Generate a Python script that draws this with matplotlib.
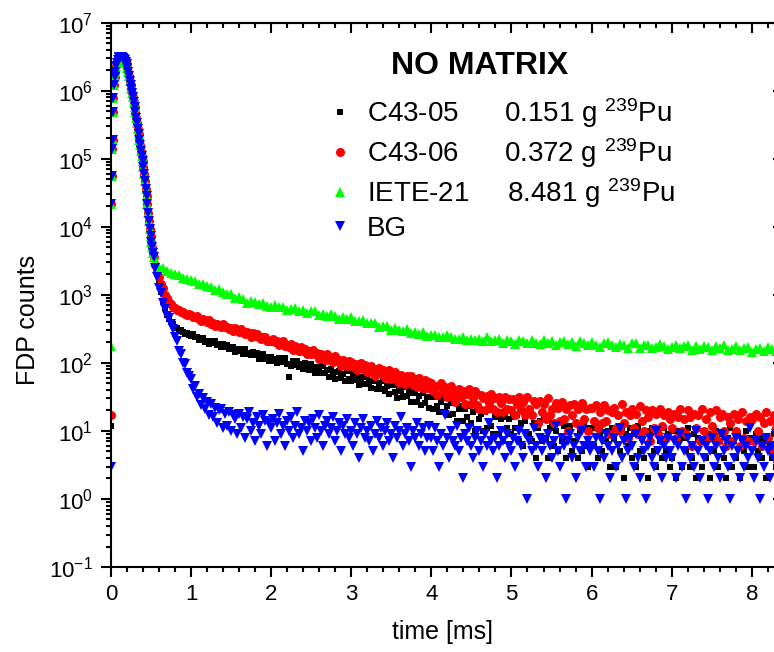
import numpy as np
import matplotlib
matplotlib.use("Agg")
import matplotlib.pyplot as plt
from matplotlib.ticker import LogLocator, MultipleLocator, FuncFormatter, NullFormatter

plt.rcParams['font.family'] = ['Liberation Sans', 'DejaVu Sans']
plt.rcParams['mathtext.fontset'] = 'custom'
plt.rcParams['mathtext.rm'] = 'Liberation Sans'
plt.rcParams['mathtext.it'] = 'Liberation Sans:italic'
plt.rcParams['mathtext.bf'] = 'Liberation Sans:bold'

# ---------------- data ----------------
series_names = ["C43-05", "C43-06", "IETE-21", "BG"]
series_masses = ["0.151 g", "0.372 g", "8.481 g", ""]

# first bin (t = 0) for each series
start_counts = {"C43-05": 12, "C43-06": 17, "IETE-21": 180, "BG": 3}

# shared rise / peak / fast decay (identical for all measurements)
t_peak = np.concatenate([np.arange(0.005, 0.036, 0.005), np.arange(0.045, 0.54, 0.01)])
peak_counts = [2.2e4, 5.5e4, 1.4e5, 1.9e5, 4.9e5, 7.8e5, 1.2e6,
               1.6e6, 1.9e6, 2.3e6, 2.6e6, 2.85e6, 3.0e6, 3.1e6, 3.15e6, 3.15e6, 3.1e6,
               3.05e6, 3.0e6, 2.9e6, 2.8e6, 2.65e6,
               2.45e6, 2.14e6, 1.86e6, 1.62e6, 1.41e6, 1.23e6, 1.07e6, 9.33e5, 8.13e5, 6.92e5,
               5.75e5, 4.79e5, 3.98e5, 3.31e5, 2.75e5, 2.29e5, 1.91e5, 1.58e5, 1.32e5, 1.10e5,
               9.12e4, 7.59e4, 6.03e4, 4.68e4, 3.63e4, 2.82e4, 2.14e4, 1.62e4, 1.23e4, 9330,
               7410, 6030, 5010, 4170, 3550]

# tails (0.55 ms ... 8.4 ms)
t_tail_fine = np.arange(0.55, 8.4001, 0.025)
t_tail_coarse = np.arange(0.55, 8.4001, 0.05)

c43_05_tail = [
    2680, 2030, 1470, 1120, 790, 640, 510, 440, 395, 368, 330, 326, 297, 302, 280, 268, 275, 255,
    245, 263, 238, 244, 214, 231, 232, 206, 213, 192, 211, 194, 207, 181, 189, 169, 187, 170, 184, 160,
    167, 173, 145, 162, 151, 160, 137, 159, 137, 141, 129, 147, 129, 138, 116, 131, 134, 114, 122, 108,
    124, 106, 116, 99, 120, 104, 112, 118, 95, 62, 89, 107, 94, 107, 88, 96, 81, 98, 90, 78,
    97, 79, 70, 88, 83, 70, 91, 70, 79, 63, 81, 69, 58, 74, 77, 59, 68, 55, 75, 58,
    55, 68, 56, 63, 48, 58, 62, 49, 63, 50, 43, 54, 55, 41, 50, 42, 54, 39, 46, 35,
    47, 48, 37, 30, 42, 38, 31, 44, 33, 40, 27, 36, 38, 27, 33, 24, 36, 26, 32, 22,
    31, 21, 32, 23, 19, 27, 30, 19, 23, 17, 26, 18, 26, 14, 21, 23, 14, 21, 16, 23,
    13, 19, 10, 21, 15, 18, 10, 19, 11, 20, 12, 9, 16, 18, 9, 15, 7, 16, 11, 15,
    9, 16, 11, 17, 7, 13, 6, 14, 17, 9, 7, 13, 4, 11, 14, 7, 15, 8, 4, 11,
    13, 6, 10, 5, 14, 7, 12, 4, 11, 12, 5, 7, 13, 4, 10, 5, 12, 6, 3, 11,
    11, 6, 12, 4, 9, 5, 13, 7, 10, 3, 11, 8, 3, 11, 5, 10, 2, 9, 6, 11,
    4, 9, 3, 12, 5, 8, 4, 10, 2, 9, 11, 5, 3, 10, 7, 4, 11, 5, 9, 3,
    4, 10, 2, 7, 10, 3, 8, 5, 11, 3, 4, 9, 2, 8, 7, 3, 10, 4, 9, 2,
    8, 5, 10, 3, 7, 9, 4, 2, 8, 11, 3, 7, 4, 9, 2, 8, 5, 10, 3, 8,
    8, 3, 9, 5, 8, 4, 7, 2, 8, 6, 4, 9, 3, 8, 5, 8, 4]

c43_06_tail = [
    2790, 2260, 1830, 1460, 1240, 990, 890, 775, 730, 660, 648, 598, 602, 556, 561, 528, 512, 517,
    512, 469, 480, 484, 441, 415, 444, 420, 404, 420, 378, 391, 354, 378, 363, 336, 369, 332, 342, 313,
    324, 295, 323, 309, 285, 310, 280, 264, 283, 271, 243, 272, 245, 264, 239, 222, 237, 243, 210, 213,
    207, 225, 203, 211, 183, 200, 207, 175, 184, 173, 187, 154, 176, 165, 151, 173, 150, 162, 135, 150,
    133, 155, 134, 140, 116, 137, 128, 110, 133, 112, 123, 102, 125, 105, 112, 91, 111, 102, 90, 108,
    104, 86, 95, 79, 95, 99, 82, 92, 74, 83, 91, 72, 65, 80, 83, 70, 78, 60, 72, 79,
    58, 66, 74, 56, 50, 67, 62, 49, 65, 54, 65, 47, 58, 44, 60, 51, 43, 56, 43, 52,
    51, 39, 45, 34, 46, 50, 37, 44, 31, 38, 45, 32, 27, 38, 41, 31, 38, 25, 35, 41,
    25, 30, 38, 24, 21, 34, 30, 20, 33, 26, 35, 21, 30, 19, 32, 26, 19, 31, 21, 29,
    20, 29, 17, 25, 31, 20, 27, 17, 31, 21, 17, 28, 25, 13, 28, 19, 25, 15, 30, 17,
    21, 13, 26, 22, 14, 27, 15, 21, 10, 24, 17, 25, 13, 21, 12, 26, 15, 21, 10, 22,
    22, 14, 24, 11, 19, 13, 24, 14, 20, 9, 19, 22, 11, 17, 10, 25, 13, 19, 8, 17,
    21, 11, 18, 9, 23, 14, 10, 20, 16, 7, 20, 11, 18, 9, 21, 12, 17, 8, 19, 15,
    11, 18, 8, 16, 21, 10, 15, 9, 20, 16, 6, 18, 11, 17, 7, 21, 10, 15, 8, 19,
    12, 9, 20, 7, 16, 18, 10, 6, 16, 13, 7, 18, 10, 15, 6, 19, 8, 14, 7, 16,
    15, 7, 18, 10, 16, 6, 13, 19, 8, 14, 5, 17, 11, 15, 7, 17, 9]

iete_21_tail = [
    3115, 2561, 2468, 2228, 2067, 2020, 1957, 1791, 1686, 1665,
    1578, 1455, 1466, 1346, 1303, 1196, 1201, 1084, 1045, 1015,
    903, 932, 856, 767, 822, 783, 726, 764, 695, 662,
    717, 655, 667, 602, 626, 632, 578, 596, 538, 588,
    573, 501, 530, 492, 515, 489, 449, 476, 446, 466,
    411, 408, 424, 380, 388, 383, 332, 343, 345, 309,
    330, 309, 292, 314, 274, 285, 268, 280, 245, 258,
    259, 237, 241, 253, 240, 221, 226, 237, 219, 226,
    216, 228, 207, 241, 207, 216, 227, 197, 220, 207,
    187, 220, 213, 197, 220, 198, 191, 220, 198, 209,
    184, 201, 209, 187, 201, 177, 207, 195, 182, 201,
    183, 174, 193, 203, 182, 173, 192, 185, 165, 195,
    194, 163, 181, 186, 166, 174, 191, 180, 161, 169,
    184, 165, 175, 184, 156, 175, 162, 179, 171, 155,
    175, 164, 181, 156, 160, 176, 156, 168, 172, 145,
    159, 168, 148, 170, 160, 152, 175, 149]

bg_tail = [
    2480, 1830, 1280, 1060, 770, 615, 490, 452, 368, 318, 243, 207, 152, 136, 101, 95, 70, 65,
    58, 41, 45, 31, 35, 24, 30, 21, 27, 17, 25, 16, 22, 13, 20, 21, 11, 18, 12, 19,
    10, 17, 15, 9, 18, 11, 16, 8, 15, 19, 10, 13, 7, 16, 12, 9, 17, 14, 6, 13,
    11, 15, 7, 13, 18, 9, 12, 6, 14, 10, 16, 8, 12, 19, 9, 11, 5, 14, 10, 13,
    7, 15, 11, 8, 17, 10, 6, 12, 14, 9, 11, 16, 7, 10, 13, 5, 12, 9, 15, 8,
    10, 6, 13, 9, 4, 11, 15, 8, 10, 7, 12, 5, 9, 14, 8, 11, 6, 10, 13, 7,
    9, 4, 12, 8, 10, 16, 6, 9, 11, 7, 3, 10, 8, 13, 6, 9, 11, 5, 8, 12,
    8, 5, 11, 7, 3, 9, 6, 17, 8, 4, 10, 7, 6, 12, 5, 8, 2, 9, 7, 11,
    6, 4, 8, 10, 5, 7, 3, 9, 6, 13, 7, 5, 8, 2, 6, 10, 7, 4, 9, 6,
    5, 8, 3, 7, 10, 6, 4, 9, 1, 7, 5, 11, 6, 3, 8, 5, 7, 2, 9, 6,
    4, 7, 12, 5, 3, 8, 6, 1, 7, 9, 4, 6, 2, 8, 5, 10, 6, 3, 7, 5,
    6, 3, 8, 5, 1, 7, 4, 9, 6, 2, 5, 8, 3, 6, 11, 4, 7, 1, 5, 8,
    6, 3, 9, 4, 2, 7, 5, 1, 6, 8, 4, 3, 10, 5, 7, 2, 6, 4, 8, 5,
    4, 7, 2, 6, 9, 3, 5, 1, 8, 4, 6, 3, 10, 5, 2, 7, 4, 6, 1, 5,
    8, 3, 6, 4, 2, 9, 5, 7, 3, 1, 6, 4, 8, 5, 2, 7, 3, 6, 4, 11,
    5, 2, 7, 4, 1, 6, 3, 8, 5, 2, 6, 4, 9, 3, 5, 1, 7]

tails = {"C43-05": (t_tail_fine, c43_05_tail),
         "C43-06": (t_tail_fine, c43_06_tail),
         "IETE-21": (t_tail_coarse, iete_21_tail),
         "BG": (t_tail_fine, bg_tail)}

styles = {"C43-05": dict(marker='s', color='#000000', ms=5.0),
          "C43-06": dict(marker='o', color='#ff0000', ms=6.5),
          "IETE-21": dict(marker='^', color='#00ff00', ms=6.5),
          "BG": dict(marker='v', color='#0000ff', ms=6.8)}

# ---------------- figure ----------------
W, H = 774, 652
fig = plt.figure(figsize=(W / 100, H / 100), dpi=100)
ax_l, ax_r, ax_t, ax_b = 111, 783.8, 22.7, 567
ax = fig.add_axes([ax_l / W, (H - ax_b) / H, (ax_r - ax_l) / W, (ax_b - ax_t) / H])

handles = []
labels = []
for name, mass in zip(series_names, series_masses):
    tt, tail = tails[name]
    t = np.concatenate([[0.0], t_peak, tt])
    y = np.concatenate([[start_counts[name]], peak_counts, tail])
    st = styles[name]
    h, = ax.plot(t, y, ls='none', marker=st['marker'], ms=st['ms'],
                 color=st['color'], mec=st['color'], mew=0.0)
    handles.append(h)
    if mass:
        gap = '      ' if name != 'IETE-21' else '     '
        labels.append(name + gap + mass + r' $^{\mathrm{239}}$Pu')
    else:
        labels.append(name)

ax.set_yscale('log')
ax.set_ylim(0.1, 1e7)
ax.set_xlim(0, 8.4)

ax.xaxis.set_major_locator(MultipleLocator(1))
ax.xaxis.set_minor_locator(MultipleLocator(0.2))
ax.yaxis.set_major_locator(LogLocator(base=10, numticks=20))
ax.yaxis.set_minor_locator(LogLocator(base=10, subs=np.arange(2, 10), numticks=20))
ax.yaxis.set_minor_formatter(NullFormatter())
ax.yaxis.set_major_formatter(FuncFormatter(lambda v, p: r'$\mathrm{10^{%d}}$' % int(round(np.log10(v)))))

lw = 1.5
for s in ax.spines.values():
    s.set_linewidth(lw)
ax.tick_params(which='major', direction='out', length=7.2, width=lw, labelsize=16, top=False, right=False)
ax.tick_params(which='minor', direction='out', length=3.6, width=lw, top=False, right=False)
ax.tick_params(axis='x', which='major', pad=5)
ax.tick_params(axis='y', which='major', pad=6)

secx = ax.secondary_xaxis('top')
secx.xaxis.set_major_locator(MultipleLocator(1))
secx.xaxis.set_minor_locator(MultipleLocator(0.2))
secx.tick_params(which='major', direction='in', length=7.2, width=lw, labeltop=False)
secx.tick_params(which='minor', direction='in', length=3.6, width=lw)
secx.spines['top'].set_linewidth(lw)

secy = ax.secondary_yaxis('right')
secy.yaxis.set_major_locator(LogLocator(base=10, numticks=20))
secy.yaxis.set_minor_locator(LogLocator(base=10, subs=np.arange(2, 10), numticks=20))
secy.tick_params(which='major', direction='in', length=8.0, width=lw, labelright=False)
secy.tick_params(which='minor', direction='in', length=3.6, width=lw, labelright=False)
secy.spines['right'].set_linewidth(lw)

ax.set_xlabel('time [ms]', fontsize=18)
ax.set_ylabel('FDP counts', fontsize=18)
ax.xaxis.label.set_va('center')
ax.xaxis.set_label_coords((443 - ax_l) / (ax_r - ax_l), (ax_b - 632) / (ax_b - ax_t))
ax.yaxis.label.set_ha('center')
ax.yaxis.label.set_va('center')
ax.yaxis.set_label_coords((28 - ax_l) / (ax_r - ax_l), (ax_b - 320) / (ax_b - ax_t))

leg = ax.legend(handles, labels, loc='upper left', bbox_to_anchor=(326 / W, 1 - 96 / H),
                bbox_transform=fig.transFigure, frameon=False, fontsize=20,
                handlelength=1.0, handletextpad=0.47, labelspacing=0.22,
                borderpad=0.0, borderaxespad=0.0, numpoints=1)

fig.text(391 / W, 1 - 66 / H, 'NO MATRIX', fontsize=23, fontweight='bold', ha='left', va='center')

fig.savefig('out.png', dpi=100)
